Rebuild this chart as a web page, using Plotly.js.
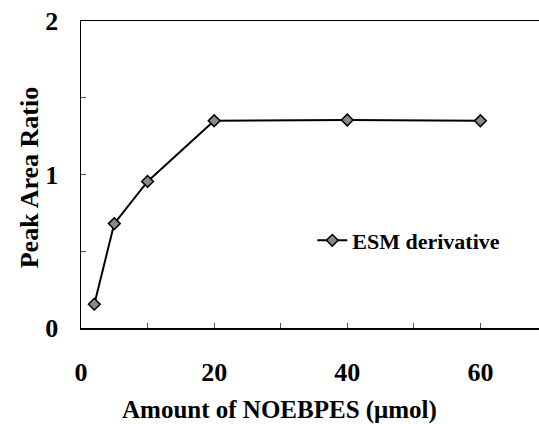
<!DOCTYPE html>
<html>
<head>
<meta charset="utf-8">
<script src="https://cdn.plot.ly/plotly-3.0.1.min.js"></script>
<style>html,body{margin:0;padding:0;background:#fff;}#chart{width:539px;height:424px;}</style>
</head>
<body>
<div id="chart"></div>
<script>
const seriesName = "ESM derivative";
const amount = [2, 5, 10, 20, 40, 60];
const peakAreaRatio = [0.155, 0.68, 0.955, 1.35, 1.355, 1.35];
const xTickVals = [0, 10, 20, 30, 40, 50, 60];
const xTickText = ["0", "", "20", "", "40", "", "60"];
const yTickVals = [0, 0.5, 1, 1.5, 2];
const yTickText = ["0", "", "1", "", "2"];
const xTitle = "Amount of NOEBPES (\u03bcmol)";
const yTitle = "Peak Area Ratio";

const fam = "Liberation Serif, Times New Roman, serif";

const trace = {
  x: amount, y: peakAreaRatio, name: seriesName, type: "scatter", mode: "lines+markers",
  line: {color: "#000", width: 2},
  marker: {symbol: "diamond", size: 9, color: "#8a8a8a", line: {color: "#000", width: 1.5}}
};

const layout = {
  width: 539, height: 424,
  margin: {l: 81, r: 0, t: 21, b: 96},
  paper_bgcolor: "#fff", plot_bgcolor: "#fff",
  font: {family: fam, color: "#000"},
  showlegend: true,
  legend: {x: 0.505, y: 0.285, xanchor: "left", yanchor: "middle", bgcolor: "rgba(0,0,0,0)",
    font: {family: fam, size: 22, color: "#000", weight: "bold"}, itemwidth: 30},
  xaxis: {
    range: [0, 68.8], showgrid: false, zeroline: false,
    showline: true, linecolor: "#000", linewidth: 1.5, mirror: true,
    ticks: "inside", ticklen: 5, tickcolor: "#555", tickwidth: 1,
    tickvals: xTickVals, ticktext: xTickText, ticklabelstandoff: 20,
    tickfont: {family: fam, size: 26, color: "#000", weight: "bold"}
  },
  yaxis: {
    range: [0, 2], showgrid: false, zeroline: false,
    showline: true, linecolor: "#000", linewidth: 1.5,
    ticks: "inside", ticklen: 5, tickcolor: "#555", tickwidth: 1,
    tickvals: yTickVals, ticktext: yTickText, ticklabelstandoff: 16,
    tickfont: {family: fam, size: 26, color: "#000", weight: "bold"}
  },
  annotations: [
    {text: xTitle, xref: "paper", yref: "paper", x: 0.434, y: -0.268, xanchor: "center", yanchor: "middle",
     showarrow: false, font: {family: fam, size: 25, color: "#000", weight: "bold"}},
    {text: yTitle, xref: "paper", yref: "paper", x: -0.112, y: 0.49, xanchor: "center", yanchor: "middle",
     textangle: -90, showarrow: false, font: {family: fam, size: 26, color: "#000", weight: "bold"}}
  ]
};

Plotly.newPlot("chart", [trace], layout, {displayModeBar: false, staticPlot: true});
</script>
</body>
</html>
